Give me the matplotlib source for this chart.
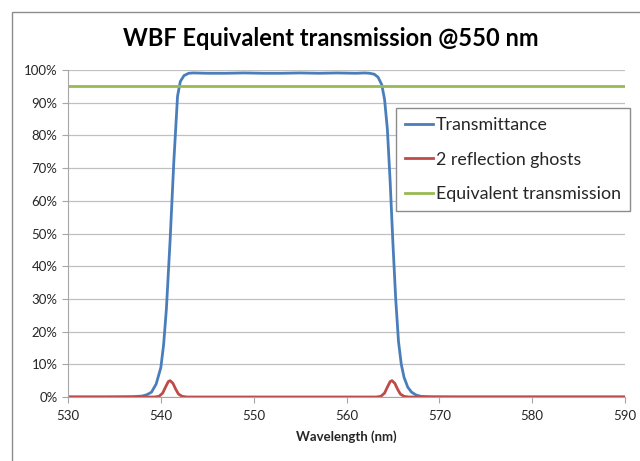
import matplotlib.pyplot as plt
from matplotlib.patches import Rectangle
from matplotlib.ticker import FuncFormatter

plt.rcParams['font.family'] = ['Lato', 'DejaVu Sans']

# wavelength samples (nm) and values
wavelength = [530, 534, 536, 537, 538, 538.5, 539, 539.5, 540, 540.3, 540.6, 541,
              541.4, 541.8, 542.1, 542.5, 543, 543.5, 545, 547, 549, 551, 553, 555,
              557, 559, 561, 562, 562.5, 563, 563.4, 563.8, 564.1, 564.4, 564.7, 565,
              565.3, 565.6, 565.9, 566.2, 566.6, 567, 567.5, 568, 569, 572, 580, 590]
transmittance = [0, 0, 0.0005, 0.001, 0.003, 0.007, 0.015, 0.04, 0.09, 0.16, 0.27, 0.48,
                 0.72, 0.92, 0.965, 0.983, 0.99, 0.991, 0.99, 0.99, 0.991, 0.99, 0.99, 0.991,
                 0.99, 0.991, 0.99, 0.991, 0.99, 0.987, 0.978, 0.955, 0.91, 0.82, 0.66, 0.47,
                 0.3, 0.17, 0.1, 0.06, 0.03, 0.015, 0.006, 0.002, 0.0005, 0, 0, 0]

ghost_wl = [530, 539.3, 539.8, 540.2, 540.5, 540.8, 541.0, 541.3, 541.6, 541.9, 542.3, 542.8,
            563.2, 563.7, 564.1, 564.4, 564.7, 564.9, 565.2, 565.5, 565.8, 566.2, 566.7, 590]
ghosts = [0, 0, 0.002, 0.012, 0.03, 0.047, 0.05, 0.042, 0.024, 0.009, 0.002, 0,
          0, 0.002, 0.012, 0.03, 0.047, 0.05, 0.042, 0.024, 0.009, 0.002, 0, 0]

equiv_wl = [530, 590]
equiv = [0.951, 0.951]

fig = plt.figure(figsize=(6.4, 4.61), dpi=100)
ax = fig.add_axes([68 / 640, 1 - 397 / 461, (625 - 68) / 640, (397 - 70) / 461])

# outer chart border like the Excel chart area
fig.patches.append(Rectangle((11.5 / 640, -0.05), 1.2, 1 - 12.5 / 461 + 0.05,
                             transform=fig.transFigure, fill=False,
                             edgecolor='#8c8c8c', linewidth=1.0))

ax.plot(wavelength, transmittance, color='#4a7ebb', linewidth=2.0, label='Transmittance')
ax.plot(ghost_wl, ghosts, color='#be4b48', linewidth=2.0, label='2 reflection ghosts')
ax.plot(equiv_wl, equiv, color='#98b954', linewidth=2.0, label='Equivalent transmission')

ax.set_xlim(530, 590)
ax.set_ylim(0, 1.0)
ax.set_xticks(range(530, 591, 10))
ax.set_yticks([i / 10 for i in range(11)])
ax.yaxis.set_major_formatter(FuncFormatter(lambda v, p: '{:.0f}%'.format(v * 100)))
ax.grid(axis='y', color='#c0c0c0', linewidth=0.9)
ax.set_axisbelow(True)

for side in ['top', 'right']:
    ax.spines[side].set_visible(False)
for side in ['left', 'bottom']:
    ax.spines[side].set_color('#a6a6a6')
ax.tick_params(axis='both', colors='#a6a6a6', labelcolor='#262626', labelsize=9.5,
               length=4, direction='out')
ax.tick_params(axis='x', pad=5)

ax.set_xlabel('Wavelength (nm)', fontsize=9.5, fontweight='bold', color='#262626', labelpad=6)
fig.text(331 / 640, 1 - 38 / 461, 'WBF Equivalent transmission @550 nm', ha='center',
         va='center', fontsize=17, fontweight='bold', color='#000000')

leg = ax.legend(loc='upper left', bbox_to_anchor=(396 / 640, 1 - 108 / 461),
                bbox_transform=fig.transFigure, fontsize=12.8, frameon=True, fancybox=False,
                handlelength=1.6, handletextpad=0.15, labelspacing=1.05, borderpad=0.5,
                borderaxespad=0)
leg.get_frame().set_edgecolor('#8c8c8c')
leg.get_frame().set_linewidth(1.0)
leg.get_frame().set_alpha(1.0)
for t in leg.get_texts():
    t.set_color('#262626')

fig.savefig('out.png', dpi=100)
